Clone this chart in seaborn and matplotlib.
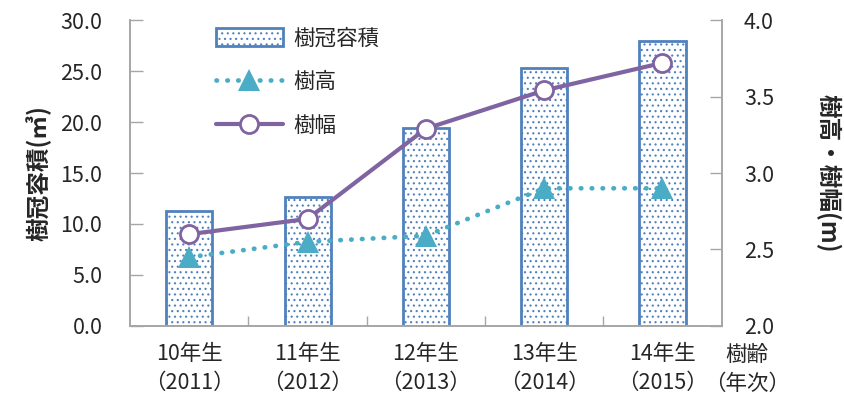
import numpy as np
import pandas as pd
import seaborn as sns
import matplotlib.pyplot as plt
from matplotlib.lines import Line2D

# values
ages = ['10年生\n（2011）', '11年生\n（2012）', '12年生\n（2013）', '13年生\n（2014）', '14年生\n（2015）']
crown_volume = [11.3, 12.6, 19.4, 25.3, 27.9]   # 樹冠容積 (m3)
tree_height = [2.45, 2.55, 2.59, 2.90, 2.90]    # 樹高 (m)
crown_width = [2.60, 2.70, 3.29, 3.54, 3.72]    # 樹幅 (m)

df = pd.DataFrame({'age': ages, 'volume': crown_volume,
                   'height': tree_height, 'width': crown_width})

sns.set_theme(style='white')
plt.rcParams['font.family'] = ['Noto Sans CJK JP', 'DejaVu Sans']
plt.rcParams['hatch.linewidth'] = 0.8

bar_blue = '#4f81bd'
teal = '#4bacc6'
purple = '#8064a2'
spine_gray = '#a6a6a6'
fs = 15.5
dotted = (0, (0.1, 2.2))

fig, ax = plt.subplots(figsize=(8.45, 4.09), dpi=100)
fig.subplots_adjust(left=0.154, right=0.854, bottom=0.203, top=0.951)

sns.barplot(data=df, x='age', y='volume', ax=ax, width=0.39, color='white',
            saturation=1, edgecolor=bar_blue, linewidth=2, hatch='...')
ax.set_ylim(0, 30)
ax.set_yticks(np.arange(0, 31, 5))
ax.set_yticklabels([f'{v:.1f}' for v in np.arange(0, 31, 5)])
ax.set_xlabel('')
ax.set_ylabel('樹冠容積(㎥)', fontsize=17, fontweight='bold', labelpad=6)

ax2 = ax.twinx()
sns.pointplot(data=df, x='age', y='height', ax=ax2, color=teal, markers='^',
              linestyles='-', markersize=16, linewidth=3.4, markeredgewidth=0,
              errorbar=None)
# dotted line with round dots, like the original
ax2.lines[0].set_linestyle(dotted)
ax2.lines[0].set_dash_capstyle('round')
sns.pointplot(data=df, x='age', y='width', ax=ax2, color=purple, markers='o',
              linestyles='-', markersize=13, linewidth=3,
              markerfacecolor='white', markeredgecolor=purple,
              markeredgewidth=2, errorbar=None)
ax2.set_ylim(2.0, 4.0)
ax2.set_yticks(np.arange(2.0, 4.01, 0.5))
ax2.set_yticklabels([f'{v:.1f}' for v in np.arange(2.0, 4.01, 0.5)])
ax2.set_ylabel('樹高・樹幅(m)', fontsize=17, fontweight='bold', rotation=270,
               labelpad=30, va='bottom')
ax2.set_xlabel('')

ax.set_xlim(-0.5, len(ages) - 0.5)
ax.set_xticks(range(len(ages)))
ax.set_xticklabels(ages)
ax.set_xticks(np.arange(0.5, len(ages) - 1, 1.0), minor=True)
ax.tick_params(axis='x', which='major', length=0, pad=12, labelsize=fs)
ax.tick_params(axis='x', which='minor', direction='in', length=7,
               color=spine_gray, width=1, bottom=True)
for t in ax.get_xticklabels():
    t.set_linespacing(1.45)
ax.tick_params(axis='y', direction='in', length=9, color=spine_gray,
               width=1, pad=20, labelsize=fs, left=True)
ax2.tick_params(axis='y', direction='in', length=9, color=spine_gray,
                width=1, pad=16, labelsize=fs, right=True)

for a in (ax, ax2):
    a.spines['top'].set_visible(False)
    for s in ('left', 'right', 'bottom'):
        a.spines[s].set_color(spine_gray)
        a.spines[s].set_linewidth(1.2)
    a.grid(False)

ax.text(1.043, -0.058, '樹齢\n（年次）', transform=ax.transAxes, ha='center',
        va='top', fontsize=fs, linespacing=1.45)

# legend
bar_handle = ax.patches[0]
h_handle = Line2D([], [], color=teal, linestyle=dotted, linewidth=3.4,
                  marker='^', markersize=16, markeredgewidth=0,
                  dash_capstyle='round')
w_handle = Line2D([], [], color=purple, linestyle='-', linewidth=3, marker='o',
                  markersize=13, markerfacecolor='white',
                  markeredgecolor=purple, markeredgewidth=2)
ax2.legend([bar_handle, h_handle, w_handle], ['樹冠容積', '樹高', '樹幅'],
           loc='upper left', bbox_to_anchor=(0.145, 0.975), frameon=False,
           fontsize=fs, handlelength=3.1, handleheight=0.9,
           labelspacing=1.0, handletextpad=0.5, borderpad=0,
           borderaxespad=0)

plt.savefig('out.png', dpi=100)
